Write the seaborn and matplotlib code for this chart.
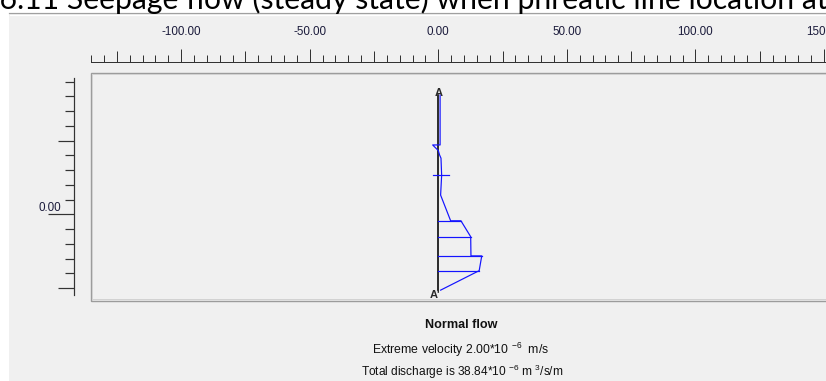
import matplotlib
matplotlib.use("Agg")
import matplotlib.pyplot as plt
from matplotlib.patches import Rectangle
from matplotlib.lines import Line2D
from matplotlib.ticker import MultipleLocator, FuncFormatter
import pandas as pd
import seaborn as sns

# ---- data -------------------------------------------------------------
# velocity envelope along section A-A' (x: scaled velocity, y: elevation)
env_velocity = [0.7, 0.7, -2.2, 0.0, 0.5, 1.05, 1.3, 0.9, 4.8, 8.8, 12.6, 12.7, 16.9, 15.9, 0.9]
env_elevation = [40.4, 23.5, 23.5, 21.6, 20.1, 19.0, 13.2, 6.5, -2.2, -2.2, -7.6, -14.1, -14.1, -19.1, -25.7]

# hatching between the section and the envelope
hatch_elevation = [-2.2, -7.6, -14.1, -19.1]
hatch_velocity = [8.8, 12.6, 16.9, 15.9]

# phreatic line marker on the section
phreatic_elevation = 13.2
phreatic_span = [-2.2, 4.2]

# section A-A'
section_x = [0.0, 0.0]
section_elevation = [40.4, -25.7]
section_labels = ["A", "A'"]
label_x = [0.0, -3.5]
label_y = [41.0, -27.3]

caption_text = "Figure 6.11 Seepage flow (steady state) when phreatic line location at"
result_title = "Normal flow"
velocity_text = "Extreme velocity 2.00*10 $^{-6}$  m/s"
discharge_text = "Total discharge is 38.84*10 $^{-6}$ m $^{3}$/s/m"

# ---- figure -----------------------------------------------------------
W, H = 826, 381
PT = 0.72  # points per pixel at dpi 100

plt.rcParams["font.family"] = ["Liberation Sans", "DejaVu Sans"]
plt.rcParams["mathtext.fontset"] = "custom"
plt.rcParams["mathtext.rm"] = "Liberation Sans"
plt.rcParams["mathtext.it"] = "Liberation Sans:italic"
plt.rcParams["mathtext.bf"] = "Liberation Sans:bold"

fig = plt.figure(figsize=(W / 100, H / 100), dpi=100, facecolor="white")

# window panel
fig.add_artist(Rectangle((9 / W, 0), 1, 1 - 12.5 / H, transform=fig.transFigure,
                         fc="#f0f0f0", ec="none", zorder=0))
fig.add_artist(Line2D([9 / W, 1], [1 - 12.5 / H] * 2, transform=fig.transFigure,
                      color="#a0a0a0", lw=1.2 * PT, zorder=1))
fig.add_artist(Line2D([10 / W, 1], [1 - 14.5 / H] * 2, transform=fig.transFigure,
                      color="#ffffff", lw=1.2 * PT, zorder=1))

# drawing area
left_px, right_px, top_px, bot_px = 90.5, 840.0, 72.7, 300.5
x0_px, sx = 438.3, 2.571
y0_px, sy = 214.3, 2.951
ax = fig.add_axes([left_px / W, 1 - bot_px / H, (right_px - left_px) / W, (bot_px - top_px) / H])
ax.set_facecolor("none")
ax.set_xlim((left_px - x0_px) / sx, (right_px - x0_px) / sx)
ax.set_ylim((y0_px - bot_px) / sy, (y0_px - top_px) / sy)

# double frame of the drawing area
ax.add_patch(Rectangle((0, 0), 1, 1, transform=ax.transAxes, fill=False,
                       ec="#9c9c9c", lw=1.4 * PT, clip_on=False, zorder=5))
dx = 1.6 / (right_px - left_px)
dy = 1.6 / (bot_px - top_px)
ax.add_patch(Rectangle((dx, dy), 1 - 2 * dx, 1 - 2 * dy, transform=ax.transAxes, fill=False,
                       ec="#d2d2d2", lw=1.0 * PT, clip_on=False, zorder=5))

# section line
sec = pd.DataFrame({"x": section_x, "y": section_elevation})
sns.lineplot(data=sec, x="x", y="y", sort=False, estimator=None, color="black",
             lw=1.6 * PT, ax=ax, zorder=3)

# velocity envelope
blue = "#1414ff"
line_w = 1.2 * PT
env = pd.DataFrame({"velocity": env_velocity, "elevation": env_elevation})
sns.lineplot(data=env, x="velocity", y="elevation", sort=False, estimator=None,
             color=blue, lw=line_w, ax=ax, zorder=4)
for hy, hx in zip(hatch_elevation, hatch_velocity):
    ax.plot([section_x[0], hx], [hy, hy], color=blue, lw=line_w, zorder=4)
ax.plot(phreatic_span, [phreatic_elevation] * 2, color=blue, lw=line_w, zorder=4)

ax.text(label_x[0], label_y[0], section_labels[0], ha="center", va="center",
        fontsize=8, fontweight="bold", color="#2a2a2a", zorder=6)
ax.text(label_x[1], label_y[1], section_labels[1], ha="left", va="center",
        fontsize=8, fontweight="bold", color="#2a2a2a", zorder=6)

ax.set_xlabel("")
ax.set_ylabel("")

# rulers
ruler_color = "#333333"
label_color = "#1c1c3c"
for s in ("bottom", "right"):
    ax.spines[s].set_visible(False)
ax.spines["top"].set_position(("outward", 11 * PT))
ax.spines["left"].set_position(("outward", 16.2 * PT))
ax.spines["top"].set_color(ruler_color)
ax.spines["left"].set_color(ruler_color)
ax.spines["top"].set_linewidth(1.0 * PT)
ax.spines["left"].set_linewidth(1.2 * PT)
ax.spines["left"].set_bounds(-27.5, 46.3)

ax.xaxis.set_ticks_position("top")
ax.xaxis.set_label_position("top")
ax.xaxis.set_major_locator(MultipleLocator(25))
ax.xaxis.set_minor_locator(MultipleLocator(5))
ax.xaxis.set_major_formatter(FuncFormatter(lambda v, p: f"{v:.2f}" if abs(v % 50) < 1e-6 else ""))
ax.tick_params(axis="x", which="major", direction="out", length=10.7 * PT, width=1.0 * PT,
               color=ruler_color, pad=9.5, labelsize=8.4, labelcolor=label_color)
ax.tick_params(axis="x", which="minor", direction="out", length=6.7 * PT, width=1.0 * PT,
               color=ruler_color)

ax.yaxis.set_major_locator(MultipleLocator(25))
ax.yaxis.set_minor_locator(MultipleLocator(5))
ax.yaxis.set_major_formatter(FuncFormatter(lambda v, p: "0.00" if abs(v) < 1e-6 else ""))
ax.tick_params(axis="y", which="major", direction="out", length=16 * PT, width=1.2 * PT,
               color=ruler_color, pad=-2.7 * PT, labelsize=8.4, labelcolor=label_color)
ax.tick_params(axis="y", which="minor", direction="out", length=9.3 * PT, width=1.2 * PT,
               color=ruler_color)

# result texts
fig.text(461 / W, 1 - 325 / H, result_title, ha="center", va="center",
         fontsize=9.1, fontweight="bold", color="#111111")
fig.text(461 / W, 1 - 350 / H, velocity_text, ha="center", va="center",
         fontsize=8.8, color="#111111")
fig.text(462 / W, 1 - 371.5 / H, discharge_text, ha="center", va="center",
         fontsize=8.6, color="#111111")

# caption, partly above the top edge
fig.canvas.draw()
renderer = fig.canvas.get_renderer()
cap_fs = 18
probe_full = fig.text(0, 0, "Seepage" + caption_text.split("Seepage", 1)[1], fontsize=cap_fs,
                      family=["Lato", "DejaVu Sans"])
probe_pre = fig.text(0, 0, caption_text.split("Seepage", 1)[0], fontsize=cap_fs,
                     family=["Lato", "DejaVu Sans"])
w_full = probe_full.get_window_extent(renderer).width
cap_fs = cap_fs * 758 / w_full
probe_pre.set_fontsize(cap_fs)
w_pre = probe_pre.get_window_extent(renderer).width
probe_full.remove()
probe_pre.remove()
fig.text((67 - w_pre) / W, 1 - 8.5 / H, caption_text, ha="left", va="baseline",
         fontsize=cap_fs, family=["Lato", "DejaVu Sans"], color="black", zorder=2)

# longer ticks at every 50 units and the zero label above its tick
fig.canvas.draw()
for t in ax.xaxis.get_major_ticks():
    if abs(t.get_loc() % 50) < 1e-6:
        t.tick2line.set_markersize(13.3 * PT)
for t in ax.yaxis.get_major_ticks():
    if abs(t.get_loc()) < 1e-6:
        t.tick1line.set_markersize(26 * PT)
        t.label1.set_verticalalignment("bottom")

fig.savefig("out.png", dpi=100, facecolor="white")
